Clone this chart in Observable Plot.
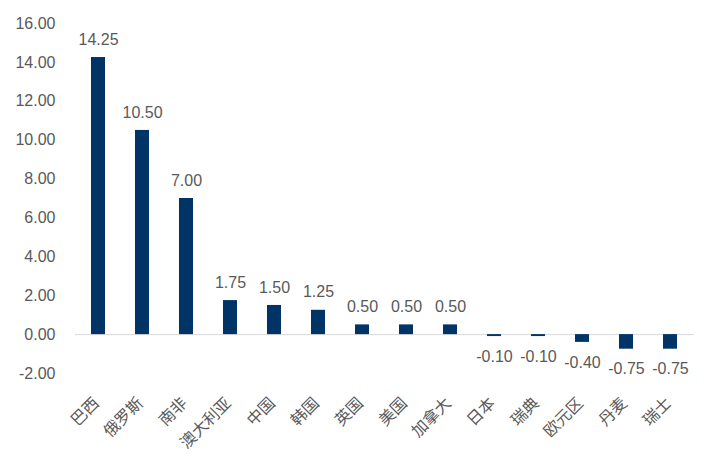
<!DOCTYPE html>
<html><head><meta charset="utf-8">
<script src="https://cdn.jsdelivr.net/npm/d3@7"></script>
<script src="https://cdn.jsdelivr.net/npm/@observablehq/plot@0.6"></script>
<style>body{margin:0;background:#fff}</style>
</head><body><div id="chart"></div>
<script>
const countries = ["巴西","俄罗斯","南非","澳大利亚","中国","韩国","英国","美国","加拿大","日本","瑞典","欧元区","丹麦","瑞士"];
const values = [14.25,10.50,7.00,1.75,1.50,1.25,0.50,0.50,0.50,-0.10,-0.10,-0.40,-0.75,-0.75];
const yTicks = [-2,0,2,4,6,8,10,12,14,16];
const data = countries.map((c,i)=>({c, v: values[i]}));
const font = "'Liberation Sans', Arial, 'Noto Sans CJK SC', sans-serif";
const chart = Plot.plot({
  width: 717, height: 464,
  marginLeft: 75, marginRight: 23, marginTop: 23, marginBottom: 91,
  style: {fontFamily: font, fontSize: "16px", color: "#595959", background: "#fff"},
  x: {domain: countries, paddingInner: 0.677, paddingOuter: 0.325, label: null},
  y: {domain: [-2,16], label: null},
  marks: [
    Plot.axisY({ticks: yTicks, tickFormat: d => d.toFixed(2), tickSize: 0, tickPadding: 20, label: null, fontSize: 16, fill: "#595959"}),
    Plot.axisX({tickSize: 0, tickRotate: -45, tickPadding: 27, dx: -2, label: null, fontSize: 16, fill: "#595959", fontFamily: "'Noto Sans CJK SC', sans-serif"}),
    Plot.ruleY([0], {stroke: "#d9d9d9", strokeWidth: 1}),
    Plot.barY(data, {x: "c", y: "v", fill: "#003366"}),
    Plot.text(data.filter(d=>d.v>=0), {x: "c", y: "v", text: d=>d.v.toFixed(2), dy: -18, fill: "#595959", fontSize: 16}),
    Plot.text(data.filter(d=>d.v<0), {x: "c", y: "v", text: d=>d.v.toFixed(2), dy: 20, fill: "#595959", fontSize: 16})
  ]
});
document.getElementById("chart").appendChild(chart);
</script></body></html>
